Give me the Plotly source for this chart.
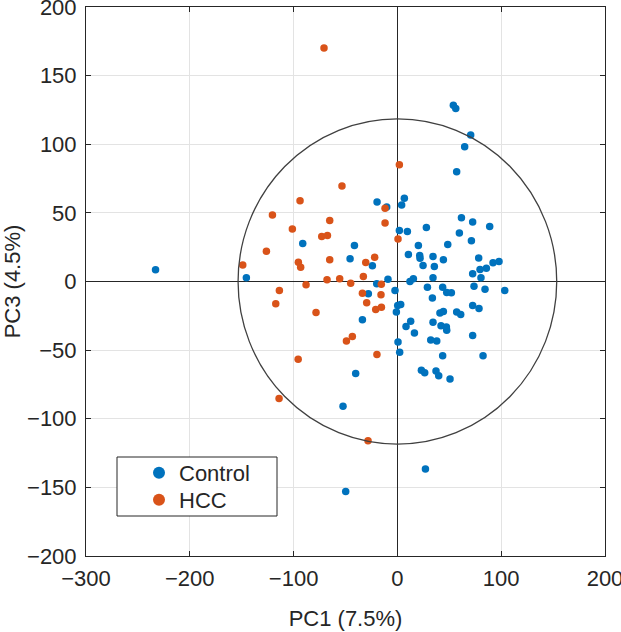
import plotly.graph_objects as go

# PC1 / PC3 scores
control_pc1 = [-233, -145.5, -91.2, -33.7, -40.2, -52.4, 27, -49.8, 0.6, 2.2,
               23.1, 26.3, 37.2, 39.8, 50.7, 43.6, 82.5, 72.5, 32.1, 37.9,
               8.3, 12.8, 16.4, 34.3, 42, 47.2, 47.5, 41, 44.3, 57.1,
               61, 72.5, 78.6, -1, 0.3, 3.2, 53.9, 56.2, 70.6, 64.8,
               57.1, -19.6, -10.3, 6.7, 4.1, -41.4, -45.6, -24.1, -19.9, -9.1,
               -28, -2.3, 1.9, 9.6, 27.9, 20.2, 10.6, 21.5, 21.8, 24.7,
               34.3, 35.6, 44.3, 48.5, 61.7, 72.5, 88.9, 59.7, 71.3, 78.3,
               92.1, 97.9, 85.7, 79.6, 72.5, 80.5, 73.8, 84.4, 103.4, 34.3,
               12.1, 15.4, 28.9, 43.6, 47.5, 52, 33.7]
control_pc3 = [8.5, 2.7, 27.6, -27.9, -67.1, -90.9, -136.7, -153, -44.1, -51.6,
               -64.7, -66.4, -65.2, -68.6, -71, -54.1, -54.1, -39.3, -42.7, -43.4,
               -32.7, -28.9, -37.6, -29.6, -32.2, -33.2, -35.6, -23, -21.8, -22.3,
               -24, -17.5, -19.6, -22.3, -17.5, -16.7, 128.5, 126, 106.7, 98.2,
               80, 58, 54.3, 60.6, 55.8, 26.2, 16.5, 11.4, -1.7, 1.7,
               -9, -6.5, 37.1, 36.4, 39.3, 26.2, 19.6, 18.9, 17, 11.6,
               18.2, 10.9, 15.8, 26.9, 46.5, 43.4, 40, 35.4, 29.6, 17.2,
               13.6, 14.5, 9.7, 8.7, 5.6, 2.7, -3.4, -5.6, -6.5, 2.7,
               0, 2, -4.1, -4.1, -8, -8.2, -12.1]

hcc_pc1 = [-149, -120.4, -93.8, -101.2, -126.2, -95.4, -93.2, -88, -113.7, -117.2,
           -78.4, -70.7, -95.6, -114, -49.1, -43.4, -19.7, -28.3, 1.9, -53.4,
           -11.9, -11.9, -65.2, -72.9, -67.4, -65.2, -21.9, -30.5, -32.8, -67.8,
           -55.6, -45, -15.5, -33.7, -15.8, -29.6, -20.9, -15.4, 0.6]
hcc_pc3 = [12, 48.5, 58.9, 38.3, 22, 14, 10.4, -2.4, -6.5, -16.2,
           -22.5, 170.2, -56.7, -85.3, -43.4, -40, -53.1, -116.1, 85.1, 69.6,
           53.3, 42.7, 44.4, 32.7, 33.5, 15.8, 17.7, 13.8, 3.6, 1.2,
           2, -1.2, -2, -8.5, -9.7, -15.5, -20.4, -18.7, 31]

# confidence ellipse semi-axes (PC1, PC3)
ellipse_rx = 153.5
ellipse_ry = 118.5

x_ticks = [-300, -200, -100, 0, 100, 200]
y_ticks = [-200, -150, -100, -50, 0, 50, 100, 150, 200]

BLUE = "#0072BD"
ORANGE = "#D95319"
AX = "#262626"
FONT = "Liberation Sans, Arial, sans-serif"

# plot-area geometry (pixels) used to place the legend
L, R, T, B = 86, 16, 7, 76
W, H = 621, 632
PW, PH = W - L - R, H - T - B


def px_x(px):
    return (px - L) / PW


def px_y(py):
    return (H - B - py) / PH


fig = go.Figure()
fig.add_trace(go.Scatter(x=control_pc1, y=control_pc3, mode="markers", name="Control",
                         legend="legend",
                         marker=dict(color=BLUE, size=7.5, line=dict(width=0))))
fig.add_trace(go.Scatter(x=hcc_pc1, y=hcc_pc3, mode="markers", name="HCC",
                         legend="legend2",
                         marker=dict(color=ORANGE, size=7.5, line=dict(width=0))))

fig.add_shape(type="circle", xref="x", yref="y",
              x0=-ellipse_rx, x1=ellipse_rx, y0=-ellipse_ry, y1=ellipse_ry,
              line=dict(color="#404040", width=1.3), layer="above")

# legend box
fig.add_shape(type="rect", xref="paper", yref="paper",
              x0=px_x(117), x1=px_x(277), y0=px_y(516), y1=px_y(457),
              line=dict(color="#262626", width=1), fillcolor="white", layer="above")

axis_common = dict(
    showgrid=True, gridcolor="#e3e3e3", gridwidth=1,
    zeroline=True, zerolinecolor=AX, zerolinewidth=1.3,
    showline=True, linecolor=AX, linewidth=1, mirror="ticks",
    ticks="inside", ticklen=5, tickcolor=AX, tickwidth=1,
    tickfont=dict(family=FONT, size=22, color=AX),
    title_font=dict(family=FONT, size=22, color=AX),
    ticklabeloverflow="allow",
    automargin=False,
)

fig.update_xaxes(range=[-300, 200], tickvals=x_ticks, title_text="PC1 (7.5%)",
                 title_standoff=20, ticklabelstandoff=3, **axis_common)
fig.update_yaxes(range=[-200, 200], tickvals=y_ticks, title_text="PC3 (4.5%)",
                 title_standoff=8, ticklabelstandoff=4, **axis_common)

leg_common = dict(xanchor="left", yanchor="middle", bgcolor="rgba(0,0,0,0)",
                  borderwidth=0, font=dict(family=FONT, size=22, color=AX),
                  itemsizing="constant")

fig.update_layout(
    width=W, height=H,
    margin=dict(l=L, r=R, t=T, b=B),
    plot_bgcolor="white", paper_bgcolor="white",
    showlegend=True,
    legend=dict(x=px_x(139), y=px_y(473), **leg_common),
    legend2=dict(x=px_x(139), y=px_y(500), **leg_common),
)

fig.write_html("out.html", config={"displayModeBar": False},
               post_script="document.body.style.margin='0';document.body.style.overflow='hidden';")
